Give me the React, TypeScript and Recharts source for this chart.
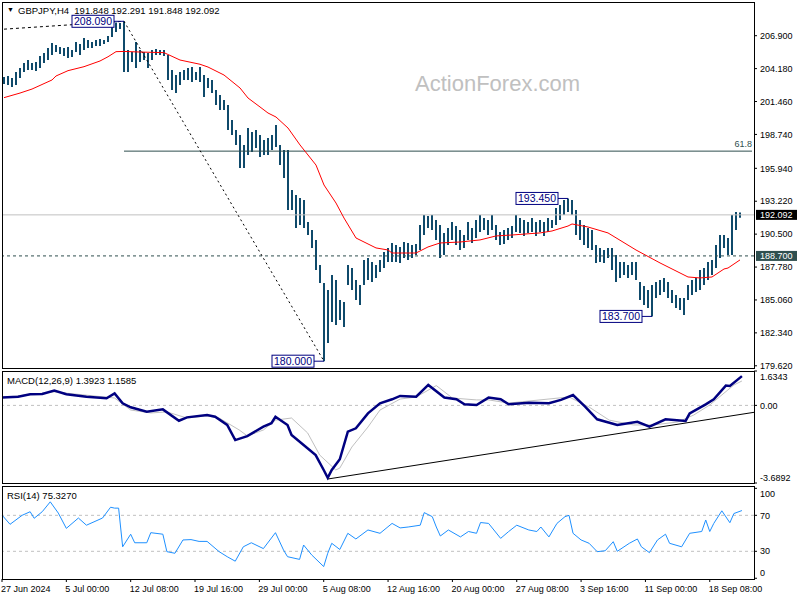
import React from 'react';
import { ComposedChart, Bar, Line, XAxis, YAxis, ReferenceLine, ReferenceDot } from 'recharts';

const FONT = "'Liberation Sans', Arial, sans-serif";

// x-axis labels, one every 16 slots (each slot = 2 H4 bars)
const tickLabels = ['27 Jun 2024', '5 Jul 00:00', '12 Jul 08:00', '19 Jul 16:00', '29 Jul 00:00', '5 Aug 08:00', '12 Aug 16:00', '20 Aug 00:00', '27 Aug 08:00', '3 Sep 16:00', '11 Sep 00:00', '18 Sep 08:00'];
const SLOTS_PER_LABEL = 16;
const SLOTS = 188;

const high = [203.49, 203.57, 203.40, 203.90, 204.23, 204.64, 204.89, 204.64, 204.73, 205.22, 205.47, 205.88, 206.30, 206.13, 205.97, 205.88, 205.97, 205.72, 206.38, 206.21, 206.71, 206.54, 206.38, 206.54, 206.63, 206.54, 206.87, 207.75, 208.00, 207.95, 208.09, 205.72, 205.55, 206.38, 205.72, 205.55, 205.47, 205.72, 205.80, 205.72, 205.72, 205.30, 204.07, 203.65, 203.90, 204.07, 204.23, 204.31, 203.90, 204.31, 203.65, 203.40, 203.24, 202.41, 202.00, 201.59, 201.17, 199.93, 199.11, 198.69, 197.87, 199.27, 198.94, 199.11, 198.69, 198.28, 198.45, 198.69, 199.52, 197.87, 197.45, 197.45, 194.15, 193.73, 193.49, 193.32, 191.50, 190.84, 190.02, 187.95, 186.46, 185.89, 187.13, 186.71, 185.06, 184.89, 187.95, 187.70, 186.71, 186.30, 188.37, 188.53, 188.20, 187.95, 188.37, 189.03, 189.36, 189.77, 189.60, 189.44, 189.85, 189.77, 189.60, 189.69, 191.26, 192.08, 192.00, 192.08, 191.67, 191.26, 190.60, 191.01, 191.50, 191.17, 190.84, 190.43, 191.50, 191.01, 191.67, 192.08, 191.83, 191.67, 192.08, 191.26, 190.68, 190.84, 191.01, 191.17, 192.08, 191.83, 191.67, 191.50, 191.83, 191.50, 191.67, 191.50, 191.83, 191.67, 192.66, 192.91, 193.32, 193.45, 193.32, 192.50, 191.67, 191.26, 191.01, 190.84, 189.60, 189.36, 189.19, 189.36, 189.36, 188.78, 188.20, 188.20, 187.95, 188.20, 188.20, 186.55, 186.21, 185.89, 186.30, 186.55, 186.71, 186.88, 186.55, 185.89, 185.47, 185.22, 185.22, 186.30, 186.71, 186.88, 187.54, 187.70, 188.20, 188.37, 189.60, 190.43, 190.43, 190.18, 192.08, 192.33, 192.29];
const low = [202.91, 202.83, 202.66, 202.83, 203.40, 203.90, 204.07, 204.07, 203.98, 204.23, 204.64, 204.89, 205.30, 205.55, 205.39, 205.22, 205.06, 205.14, 205.55, 205.30, 205.72, 205.88, 205.88, 206.05, 206.05, 206.21, 206.38, 206.80, 207.20, 207.45, 203.90, 203.90, 204.73, 204.23, 204.73, 204.89, 204.23, 204.89, 205.30, 205.30, 205.22, 203.24, 202.41, 202.16, 202.83, 203.24, 203.24, 203.07, 203.24, 203.07, 201.83, 202.58, 202.16, 201.17, 200.76, 200.76, 199.11, 198.69, 197.87, 195.97, 195.97, 197.04, 197.29, 197.62, 196.88, 197.04, 197.04, 197.45, 197.70, 196.21, 195.14, 192.50, 192.50, 191.01, 191.26, 191.01, 190.43, 189.36, 187.54, 186.46, 180.00, 181.50, 183.24, 182.99, 183.41, 182.83, 186.30, 185.89, 185.06, 184.65, 186.30, 186.71, 186.55, 186.88, 187.37, 187.70, 188.20, 188.20, 188.20, 188.12, 188.53, 188.37, 188.53, 188.78, 189.19, 190.43, 191.01, 190.84, 190.02, 188.53, 188.78, 189.60, 190.02, 189.60, 189.19, 189.36, 190.02, 189.77, 190.18, 190.68, 190.84, 190.43, 190.84, 190.02, 189.60, 189.69, 190.02, 190.18, 190.68, 190.60, 190.35, 190.60, 190.68, 190.35, 190.68, 190.35, 190.68, 191.01, 191.26, 191.67, 192.08, 192.33, 192.08, 190.43, 190.02, 189.60, 189.36, 189.19, 188.12, 188.20, 188.12, 188.53, 187.54, 186.55, 186.88, 187.13, 186.88, 187.13, 186.71, 185.06, 184.65, 184.40, 183.70, 185.22, 185.47, 185.72, 185.22, 184.81, 184.40, 184.23, 183.82, 185.06, 185.47, 185.72, 185.89, 186.30, 186.71, 187.13, 187.70, 188.53, 189.36, 188.78, 188.78, 190.84, 191.85];

// moving average: [slot, price]
const maPts = [[0, 201.78], [4, 202.16], [7, 202.49], [12, 203.24], [13, 203.57], [16, 204.01], [20, 204.34], [24, 204.81], [26, 205.16], [28, 205.58], [30, 205.6], [34, 205.55], [40, 205.5], [44, 204.89], [49, 204.54], [51, 204.31], [55, 203.65], [59, 202.58], [61, 201.75], [64, 201.01], [66, 200.51], [68, 200.18], [71, 199.27], [74, 197.87], [78, 196.21], [80, 194.56], [83, 193.07], [85, 191.83], [88, 190.18], [93, 189.36], [96, 189.19], [97, 188.94], [103, 188.94], [106, 189.44], [109, 189.77], [114, 189.85], [119, 190.02], [123, 190.35], [127, 190.43], [134, 190.6], [137, 190.76], [141, 191.17], [142, 191.34], [146, 191.09], [151, 190.6], [158, 189.19], [164, 188.12], [171, 186.96], [174, 186.88], [177, 186.96], [180, 187.62], [181, 187.7], [184, 188.37]];

const macdPts = [[0, 0.37], [4, 0.41], [7, 0.53], [10, 0.54], [13, 0.70], [16, 0.53], [21, 0.41], [26, 0.34], [28, 0.57], [30, 0.10], [32, -0.09], [36, -0.30], [40, -0.19], [44, -0.73], [46, -0.57], [51, -0.46], [53, -0.54], [56, -0.93], [58, -1.65], [61, -1.46], [65, -1.01], [67, -0.85], [68, -0.54], [71, -0.93], [72, -1.41], [75, -1.88], [78, -2.36], [80, -3.07], [81, -3.44], [82, -3.07], [84, -2.56], [86, -1.25], [88, -1.09], [91, -0.38], [94, 0.10], [97, 0.29], [99, 0.45], [103, 0.41], [106, 0.97], [110, 0.37], [113, 0.29], [115, 0.05], [118, 0.02], [121, 0.37], [124, 0.29], [126, 0.05], [131, 0.13], [136, 0.10], [139, 0.26], [142, 0.49], [145, -0.06], [148, -0.66], [153, -0.93], [158, -0.78], [161, -1.01], [165, -0.66], [170, -0.74], [171, -0.38], [175, 0.05], [177, 0.29], [180, 0.94], [181, 0.92], [184, 1.39]];

const signalPts = [[0, 0.37], [13, 0.64], [28, 0.35], [32, -0.22], [37, -0.36], [41, -0.31], [46, -0.60], [51, -0.50], [54, -0.60], [59, -1.17], [61, -1.45], [65, -1.17], [68, -0.70], [72, -0.60], [76, -1.31], [79, -2.36], [83, -3.07], [84, -2.98], [87, -1.98], [91, -1.03], [94, -0.22], [99, 0.30], [103, 0.40], [108, 0.94], [112, 0.35], [118, 0.26], [121, 0.26], [126, 0.11], [141, 0.40], [146, -0.08], [151, -0.70], [157, -0.93], [162, -0.93], [168, -0.79], [172, -0.46], [176, 0.02], [182, 0.97], [184, 1.16]];

const rsiPts = [[0, 70.3], [2, 60], [5, 70], [7, 74], [8, 66.7], [10, 74], [12, 85], [14, 72.5], [16, 55.5], [19, 67], [21, 59], [25, 67], [27, 79], [28, 78], [29, 78], [30, 35], [32, 49], [33, 39.5], [36, 39.5], [37, 50.7], [40, 49], [41, 29.6], [43, 27.8], [45, 42.6], [47, 43], [49, 41], [51, 41], [54, 29.6], [56, 24], [58, 19], [60, 35], [62, 39.5], [65, 33], [68, 50.7], [70, 31.5], [71, 24], [74, 21], [75, 37], [77, 26], [80, 13], [81, 27.8], [82, 38.9], [84, 32], [86, 50], [88, 43.7], [91, 53.7], [94, 50], [97, 61], [99, 56], [101, 57], [104, 59], [105, 73], [107, 68.5], [108, 57], [109, 47], [111, 53.7], [114, 46], [116, 52], [118, 50], [119, 62], [121, 61], [124, 44.4], [126, 52], [128, 59], [131, 53.7], [133, 52], [134, 57], [136, 46], [138, 61], [140, 68.5], [141, 70], [142, 50], [144, 42.6], [146, 38.9], [148, 29.6], [150, 30.6], [152, 40.7], [153, 30], [156, 38.9], [158, 43.7], [159, 35], [161, 28.5], [163, 42.6], [165, 49], [166, 38.9], [169, 35], [171, 50], [174, 52], [175, 64.8], [176, 52], [177, 61], [179, 75], [181, 61.8], [182, 72], [184, 75.3]];

const priceTicks = [179.62, 182.34, 185.06, 187.78, 190.5, 193.22, 195.94, 198.74, 201.46, 204.18, 206.9];
const macdTicks = [1.6343, 0, -3.6892];
const macdTickLabels = ['1.6343', '0.00', '-3.6892'];
const rsiTicks = [100, 70, 30, 0];
const rsiTickLabels = ['100', '70', '30', '0'];

const lastPrice = 192.092;
const supportLevel = 188.7;
const fib618 = 197.36;
const pivots = [
  { i: 30, p: 208.09, text: '208.090' },
  { i: 80, p: 180.0, text: '180.000' },
  { i: 141, p: 193.45, text: '193.450' },
  { i: 162, p: 183.7, text: '183.700' },
];

const toMap = (pts: number[][]) => new Map(pts.map(([i, v]) => [i, v]));
const maMap = toMap(maPts);
const macdMap = toMap(macdPts);
const sigMap = toMap(signalPts);
const rsiMap = toMap(rsiPts);

const data = Array.from({ length: SLOTS }, (_, i) => ({
  i,
  hl: i < high.length ? [low[i], high[i]] : null,
  ma: maMap.has(i) ? maMap.get(i) : null,
  macd: macdMap.has(i) ? macdMap.get(i) : null,
  signal: sigMap.has(i) ? sigMap.get(i) : null,
  rsi: rsiMap.has(i) ? rsiMap.get(i) : null,
}));

const labelSlots = tickLabels.map((_, k) => k * SLOTS_PER_LABEL);

const RightTick = (props: any) => {
  const { x, y, payload, labels, values, minY, maxY } = props;
  const idx = values ? values.indexOf(payload.value) : -1;
  const txt = labels && idx >= 0 ? labels[idx] : Number(payload.value).toFixed(3);
  const yy = Math.min(Math.max(y, minY ?? -1e9), maxY ?? 1e9);
  return (
    <text x={x} y={yy} dy={3.2} fontSize={9} fontFamily={FONT} fill="#000" textAnchor="start">
      {txt}
    </text>
  );
};

const BottomTick = (props: any) => {
  const { x, y, payload } = props;
  return (
    <text x={x - 1} y={y} dy={8} fontSize={9} fontFamily={FONT} fill="#000" textAnchor="start">
      {tickLabels[Math.round(payload.value / SLOTS_PER_LABEL)]}
    </text>
  );
};

const AxisBox = (props: any) => {
  const { viewBox, text, bg } = props;
  if (!viewBox) return null;
  const x = viewBox.x + viewBox.width + 2;
  return (
    <g>
      <rect x={x} y={viewBox.y - 5} width={41} height={10} fill={bg} />
      <text x={x + 4} y={viewBox.y + 3.3} fontSize={9} fontFamily={FONT} fill="#fff">
        {text}
      </text>
    </g>
  );
};

const FibLabel = (props: any) => {
  const { viewBox } = props;
  if (!viewBox) return null;
  return (
    <text x={viewBox.x + viewBox.width} y={viewBox.y - 4} fontSize={9} fontFamily={FONT} fill="#2f4f4f" textAnchor="end">
      61.8
    </text>
  );
};

const PivotTag = (props: any) => {
  const { cx, cy, text } = props;
  const w = 42;
  return (
    <g>
      <line x1={cx - 10} y1={cy} x2={cx} y2={cy} stroke="#000080" />
      <rect x={cx - 10 - w} y={cy - 6} width={w} height={12} fill="#fff" stroke="#000080" />
      <text x={cx - 10 - w / 2} y={cy + 3.6} textAnchor="middle" fontSize={10.5} fontFamily={FONT} fill="#000080">
        {text}
      </text>
    </g>
  );
};

const frame = (top: number, height: number): React.CSSProperties => ({
  position: 'absolute',
  left: 2,
  top,
  width: 753,
  height,
  boxSizing: 'border-box',
  border: '1px solid #000',
  pointerEvents: 'none',
});

const textStyle = (left: number, top: number, size = 9.5): React.CSSProperties => ({
  position: 'absolute',
  left,
  top,
  fontSize: size,
  lineHeight: `${Math.round(size + 1)}px`,
  fontFamily: FONT,
  color: '#000',
  whiteSpace: 'pre',
});

export default function App() {
  return (
    <div style={{ position: 'absolute', left: 0, top: 0, width: 800, height: 600, background: '#fff', overflow: 'hidden' }}>
      <div style={{ position: 'absolute', left: 415, top: 73, fontSize: 22, lineHeight: '22px', fontFamily: FONT, color: '#c0c0c0', whiteSpace: 'pre' }}>
        ActionForex.com
      </div>

      {/* main price panel */}
      <div style={{ position: 'absolute', left: 0, top: 0 }}>
        <ComposedChart width={800} height={370} data={data} margin={{ top: 2, right: 0, bottom: 2, left: 2 }}>
          <XAxis dataKey="i" type="category" hide />
          <YAxis
            orientation="right"
            width={46}
            domain={[179.437, 209.685]}
            allowDataOverflow
            ticks={priceTicks}
            interval={0}
            axisLine={false}
            tickSize={3}
            tickMargin={3}
            tickLine={{ stroke: '#000' }}
            tick={(p: any) => <RightTick {...p} />}
          />
          <ReferenceLine y={lastPrice} stroke="#c0c0c0" label={<AxisBox text="192.092" bg="#000" />} />
          <ReferenceLine y={supportLevel} stroke="#2f4f4f" strokeDasharray="3 3" label={<AxisBox text="188.700" bg="#2f4f4f" />} />
          <ReferenceLine segment={[{ x: 30, y: fib618 }, { x: 187, y: fib618 }]} stroke="#2f4f4f" label={<FibLabel />} />
          <ReferenceLine segment={[{ x: 0, y: 207.44 }, { x: 30, y: 208.09 }]} stroke="#000" strokeDasharray="3 3" />
          <ReferenceLine segment={[{ x: 30, y: 208.09 }, { x: 80, y: 180.0 }]} stroke="#000" strokeDasharray="2 3" />
          <Bar dataKey="hl" barSize={2} fill="#0f4a6b" isAnimationActive={false} />
          <Line dataKey="ma" type="linear" stroke="#ff0000" strokeWidth={1} dot={false} connectNulls isAnimationActive={false} />
          {pivots.map((pv) => (
            <ReferenceDot key={pv.text} x={pv.i} y={pv.p} r={0} shape={(p: any) => <PivotTag {...p} text={pv.text} />} />
          ))}
        </ComposedChart>
      </div>

      {/* MACD panel */}
      <div style={{ position: 'absolute', left: 0, top: 369 }}>
        <ComposedChart width={800} height={116} data={data} margin={{ top: 2, right: 0, bottom: 2, left: 2 }}>
          <XAxis dataKey="i" type="category" hide />
          <YAxis
            orientation="right"
            width={46}
            domain={[-3.6892, 1.6343]}
            allowDataOverflow
            ticks={macdTicks}
            interval={0}
            axisLine={false}
            tickSize={3}
            tickMargin={3}
            tickLine={{ stroke: '#000' }}
            tick={(p: any) => <RightTick {...p} values={macdTicks} labels={macdTickLabels} minY={7.7} maxY={108.3} />}
          />
          <ReferenceLine y={0} stroke="#c0c0c0" strokeDasharray="3 3" />
          <ReferenceLine segment={[{ x: 81, y: -3.5 }, { x: 187, y: -0.33 }]} stroke="#000" />
          <Line dataKey="signal" type="linear" stroke="#c0c0c0" strokeWidth={1} dot={false} connectNulls isAnimationActive={false} />
          <Line dataKey="macd" type="linear" stroke="#000080" strokeWidth={2.5} dot={false} connectNulls isAnimationActive={false} />
        </ComposedChart>
      </div>

      {/* RSI panel */}
      <div style={{ position: 'absolute', left: 0, top: 484 }}>
        <ComposedChart width={800} height={116} data={data} margin={{ top: 2, right: 0, bottom: 0, left: 2 }}>
          <XAxis
            dataKey="i"
            type="category"
            height={21}
            ticks={labelSlots}
            interval={0}
            axisLine={false}
            tickSize={3}
            tickMargin={2}
            tickLine={{ stroke: '#000' }}
            tick={(p: any) => <BottomTick {...p} />}
          />
          <YAxis
            orientation="right"
            width={46}
            domain={[-0.8, 102.6]}
            allowDataOverflow
            ticks={rsiTicks}
            interval={0}
            axisLine={false}
            tickSize={3}
            tickMargin={3}
            tickLine={{ stroke: '#000' }}
            tick={(p: any) => <RightTick {...p} values={rsiTicks} labels={rsiTickLabels} minY={9.3} maxY={88.3} />}
          />
          <ReferenceLine y={70} stroke="#c0c0c0" strokeDasharray="3 3" />
          <ReferenceLine y={30} stroke="#c0c0c0" strokeDasharray="3 3" />
          <Line dataKey="rsi" type="linear" stroke="#1e90ff" strokeWidth={1} dot={false} connectNulls isAnimationActive={false} />
        </ComposedChart>
      </div>

      <div style={frame(2, 367)} />
      <div style={frame(371, 113)} />
      <div style={frame(486, 94)} />

      <div style={textStyle(7, 6, 7)}>▼</div>
      <div style={textStyle(18, 5)}>{'GBPJPY,H4  191.848 192.291 191.848 192.092'}</div>
      <div style={textStyle(7, 375)}>{'MACD(12,26,9) 1.3923 1.1585'}</div>
      <div style={textStyle(7, 490)}>{'RSI(14) 75.3270'}</div>
    </div>
  );
}
